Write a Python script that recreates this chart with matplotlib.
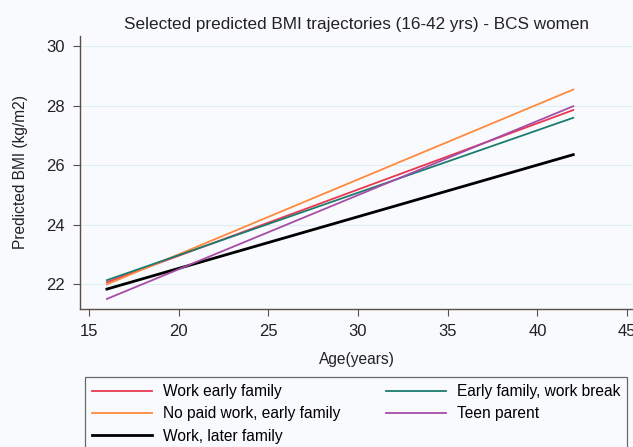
#!/usr/bin/env python3
"""Selected predicted BMI trajectories (16-42 yrs) - BCS women."""

import matplotlib

matplotlib.use("Agg")
import matplotlib.pyplot as plt

ages = [16, 42]
work_early_family = [22.06, 27.85]
no_paid_work_early_family = [21.99, 28.54]
work_later_family = [21.83, 26.35]
early_family_work_break = [22.13, 27.59]
teen_parent = [21.50, 27.98]

series = [
    ("Work early family", work_early_family, "#e8384f", 1.3),
    ("No paid work, early family", no_paid_work_early_family, "#ff8a3d", 1.3),
    ("Work, later family", work_later_family, "#000000", 2.0),
    ("Early family, work break", early_family_work_break, "#1b7c6f", 1.3),
    ("Teen parent", teen_parent, "#a64ca6", 1.3),
]

x_ticks = [15, 20, 25, 30, 35, 40, 45]
y_ticks = [22, 24, 26, 28, 30]

plt.rcParams["font.family"] = ["Liberation Sans", "DejaVu Sans"]

bg = "#f9fafd"
spine_col = "#5b4d48"
text_col = "#222222"

fig = plt.figure(figsize=(6.33, 4.47), dpi=100, facecolor=bg)
ax = fig.add_axes([0.1264, 0.3087, 0.8736, 0.6108])
ax.set_facecolor(bg)

for label, vals, col, lw in series:
    ax.plot(ages, vals, color=col, lw=lw, label=label)

ax.set_xlim(14.5, 45.33)
ax.set_ylim(21.16, 30.34)
ax.set_xticks(x_ticks)
ax.set_yticks(y_ticks)
ax.yaxis.grid(True, color="#dceff0", lw=0.8)
ax.set_axisbelow(True)

for side in ("top", "right"):
    ax.spines[side].set_visible(False)
for side in ("left", "bottom"):
    ax.spines[side].set_color(spine_col)
    ax.spines[side].set_linewidth(1.0)
ax.tick_params(axis="both", colors=spine_col, labelcolor=text_col, labelsize=12,
               length=5, direction="out", pad=6)

ax.set_title("Selected predicted BMI trajectories (16-42 yrs) - BCS women",
             fontsize=12.3, color=text_col, pad=5)
ax.set_xlabel("Age(years)", fontsize=11.2, color=text_col, labelpad=9)
ax.set_ylabel("Predicted BMI (kg/m2)", fontsize=11.2, color=text_col, labelpad=13)

handles, labels = ax.get_legend_handles_labels()
leg = fig.legend(handles, labels, ncol=2, loc="upper left",
                 bbox_to_anchor=(85 / 633, 0.0, 542 / 633, 1 - 377 / 447), mode="expand",
                 fontsize=11.2, frameon=True, fancybox=False, handlelength=3.85,
                 handletextpad=0.7, labelspacing=0.48, borderpad=0.45,
                 borderaxespad=0.0, columnspacing=2.05,
                 edgecolor="#444444", facecolor=bg)
leg.get_frame().set_linewidth(0.9)

fig.savefig("out.png", dpi=100, facecolor=bg)
